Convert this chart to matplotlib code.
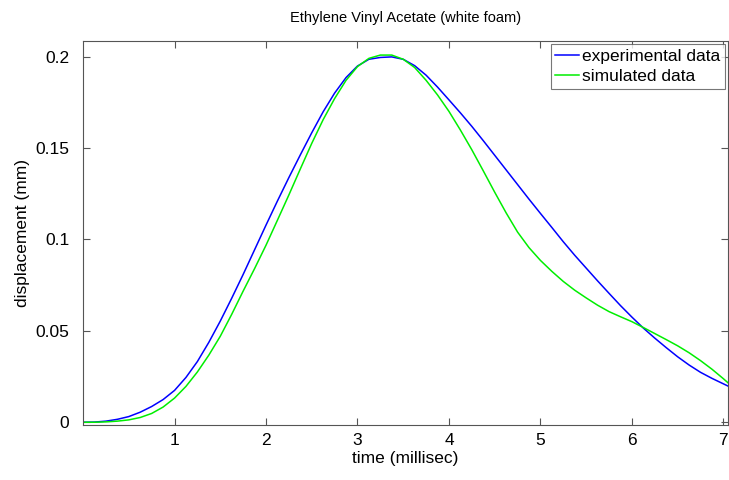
import matplotlib
matplotlib.use('Agg')
import matplotlib.pyplot as plt

plt.rcParams['font.family'] = ['Liberation Sans', 'DejaVu Sans']

# time samples (millisec), shared by both series
t = [0.0, 0.125, 0.25, 0.375, 0.5, 0.625, 0.75, 0.875, 1.0, 1.125, 1.25,
     1.375, 1.5, 1.625, 1.75, 1.875, 2.0, 2.125, 2.25, 2.375, 2.5, 2.625,
     2.75, 2.875, 3.0, 3.125, 3.25, 3.375, 3.5, 3.625, 3.75, 3.875, 4.0,
     4.125, 4.25, 4.375, 4.5, 4.625, 4.75, 4.875, 5.0, 5.125, 5.25, 5.375,
     5.5, 5.625, 5.75, 5.875, 6.0, 6.125, 6.25, 6.375, 6.5, 6.625, 6.75,
     6.875, 7.0, 7.05]

# experimental data (blue)
d_exp = [0.0, 0.0001, 0.0006, 0.0016, 0.0031, 0.0055, 0.0086, 0.0124,
         0.0174, 0.0245, 0.0332, 0.0437, 0.0553, 0.0678, 0.0808, 0.0943,
         0.1078, 0.121, 0.1338, 0.1462, 0.1583, 0.1698, 0.18, 0.1885,
         0.1948, 0.1985, 0.1995, 0.1998, 0.1985, 0.195, 0.1898, 0.1833,
         0.1763, 0.1692, 0.1618, 0.154, 0.146, 0.138, 0.13, 0.122,
         0.1142, 0.1065, 0.0987, 0.0913, 0.0843, 0.0773, 0.0705, 0.0638,
         0.0575, 0.0515, 0.046, 0.0408, 0.0358, 0.0313, 0.0273, 0.024,
         0.021, 0.0198]

# simulated data (green)
d_sim = [0.0, 0.0, 0.0002, 0.0006, 0.0013, 0.0026, 0.0048, 0.0083,
         0.0132, 0.0196, 0.0275, 0.0367, 0.047, 0.059, 0.0717, 0.084,
         0.0968, 0.1105, 0.1243, 0.1385, 0.1525, 0.1655, 0.177, 0.187,
         0.1945, 0.199, 0.2008, 0.2008, 0.1985, 0.194, 0.187, 0.179,
         0.17, 0.1598, 0.149, 0.1375, 0.1258, 0.1145, 0.104, 0.0955,
         0.0885, 0.0825, 0.077, 0.0722, 0.068, 0.064, 0.0605, 0.0577,
         0.055, 0.0518, 0.0485, 0.0452, 0.0418, 0.038, 0.0337, 0.029,
         0.0238, 0.0216]

fig = plt.figure(figsize=(7.29, 4.80), dpi=100)
ax = fig.add_axes([0.1139, 0.1146, 0.8847, 0.80])

ax.plot(t, d_exp, color='#0000ff', lw=1.1, label='experimental data')
ax.plot(t, d_sim, color='#00ee00', lw=1.1, label='simulated data')

ax.set_xlim(0, 7.05)
ax.set_ylim(-0.0015, 0.2085)
ax.set_xticks([1, 2, 3, 4, 5, 6, 7])
ax.set_yticks([0, 0.05, 0.1, 0.15, 0.2])
ax.set_yticklabels(['0', '0.05', '0.1', '0.15', '0.2'])

for s in ax.spines.values():
    s.set_color('#555555')
    s.set_linewidth(0.8)
ax.tick_params(direction='in', length=5, width=0.8, color='#555555',
               top=True, right=True, labelsize=12.5)
ax.tick_params(axis='y', pad=10)
ax.tick_params(axis='x', pad=6)

ax.set_title('Ethylene Vinyl Acetate (white foam)', fontsize=10.5, pad=14)
ax.set_xlabel('time (millisec)', fontsize=12.5, labelpad=2)
ax.set_ylabel('displacement (mm)', fontsize=12.5, labelpad=4)

leg = ax.legend(loc='upper right', fontsize=12.5, frameon=True, fancybox=False,
                handlelength=1.4, handletextpad=0.15, borderpad=0.25,
                labelspacing=0.3, borderaxespad=0.2)
leg.get_frame().set_edgecolor('#555555')
leg.get_frame().set_linewidth(0.8)

fig.savefig('out.png', dpi=100)
